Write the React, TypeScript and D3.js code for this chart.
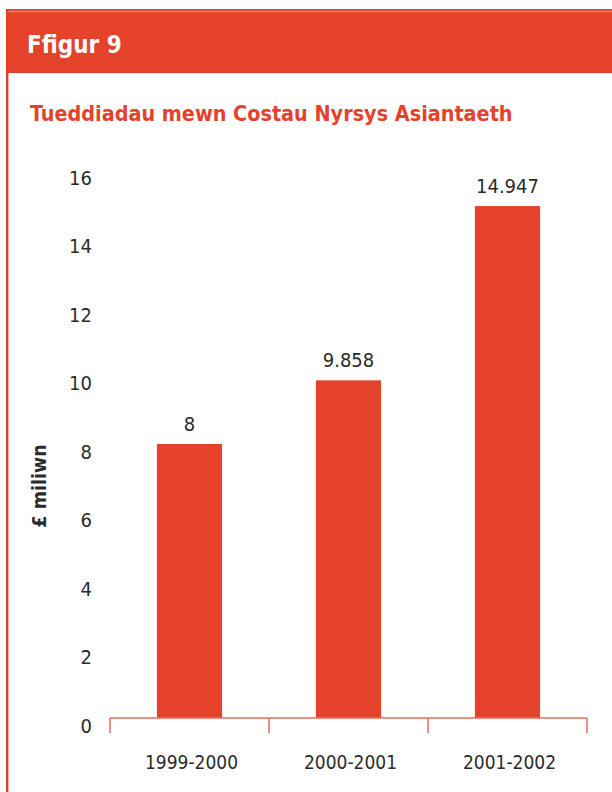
import React from 'react';
import * as d3 from 'd3';

const width = 612;
const height = 792;

const figureLabel = 'Ffigur 9';
const chartTitle = 'Tueddiadau mewn Costau Nyrsys Asiantaeth';
const yAxisTitle = '£ miliwn';

const years = ['1999-2000', '2000-2001', '2001-2002'];
const costs = [8, 9.858, 14.947];
const costLabels = ['8', '9.858', '14.947'];
const yTicks = [0, 2, 4, 6, 8, 10, 12, 14, 16];

const red = '#e4422b';
const axisRed = '#ec6a5a';
const textColor = '#2b2b2b';
const narrow = '"DejaVu Sans Condensed", "Liberation Sans", sans-serif';

const plot = { left: 110, right: 587, top: 170, bottom: 718 };

const App = () => {
  const xScale = d3.scaleBand<string>()
    .domain(years)
    .range([plot.left, plot.right])
    .padding(0);

  const yScale = d3.scaleLinear()
    .domain([0, 16])
    .range([plot.bottom, plot.top]);

  const barWidth = xScale.bandwidth() * 0.41;
  const tickEdges = [...years.map(y => xScale(y) as number), plot.right];

  return (
    <svg
      width={width}
      height={height}
      style={{ position: 'absolute', left: 0, top: 0, display: 'block' }}
    >
      {/* Header band */}
      <rect x={6} y={9} width={width - 6} height={64} fill={red} />
      <line x1={6} x2={width} y1={11.5} y2={11.5} stroke="#f3836f" strokeWidth={1.5} />
      <line x1={7.2} x2={7.2} y1={9} y2={height} stroke={red} strokeWidth={2.4} />

      <text x={27} y={53} fill="#fff" fontFamily={narrow} fontWeight="bold" fontSize={24}>
        {figureLabel}
      </text>

      <text x={30} y={121} fill={red} fontFamily={narrow} fontWeight="bold" fontSize={21.4}>
        {chartTitle}
      </text>

      {/* Y tick labels */}
      {yTicks.map(t => (
        <text
          key={t}
          x={92}
          y={yScale(t) + 9}
          textAnchor="end"
          dominantBaseline="middle"
          fontFamily={narrow}
          fontSize={20}
          fill={textColor}
        >
          {t}
        </text>
      ))}

      {/* Y axis title */}
      <text
        transform={`translate(46, 486) rotate(-90)`}
        textAnchor="middle"
        fontFamily={narrow}
        fontWeight="bold"
        fontSize={19.5}
        fill={textColor}
      >
        {yAxisTitle}
      </text>

      {/* Bars */}
      {years.map((y, i) => {
        const cx = (xScale(y) as number) + xScale.bandwidth() / 2;
        return (
          <g key={y}>
            <rect
              x={cx - barWidth / 2}
              y={yScale(costs[i])}
              width={barWidth}
              height={plot.bottom - yScale(costs[i])}
              fill={red}
            />
            <text
              x={cx}
              y={yScale(costs[i]) - 13}
              textAnchor="middle"
              fontFamily={narrow}
              fontSize={20}
              fill={textColor}
            >
              {costLabels[i]}
            </text>
            <text
              x={cx + 2}
              y={769}
              textAnchor="middle"
              fontFamily={narrow}
              fontSize={19}
              fill={textColor}
            >
              {y}
            </text>
          </g>
        );
      })}

      {/* X axis */}
      <line x1={plot.left} x2={plot.right} y1={plot.bottom} y2={plot.bottom} stroke={axisRed} strokeWidth={1.5} />
      {tickEdges.map((x, i) => (
        <line key={i} x1={x} x2={x} y1={plot.bottom} y2={plot.bottom + 15} stroke={axisRed} strokeWidth={1.5} />
      ))}
    </svg>
  );
};

export default App;
